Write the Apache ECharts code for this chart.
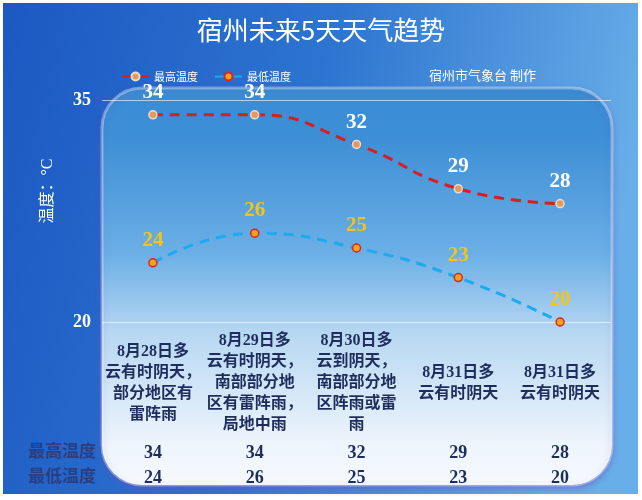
<!DOCTYPE html>
<html><head><meta charset="utf-8">
<script src="https://cdn.jsdelivr.net/npm/echarts@6/dist/echarts.min.js"></script>
<style>html,body{margin:0;padding:0;background:#fff}#c{width:642px;height:500px}</style>
</head><body><div id="c"></div>
<script>
const categories = [
  '8月28日多\n云有时阴天，\n部分地区有\n雷阵雨',
  '8月29日多\n云有时阴天，\n南部部分地\n区有雷阵雨，\n局地中雨',
  '8月30日多\n云到阴天，\n南部部分地\n区阵雨或雷\n雨',
  '8月31日多\n云有时阴天',
  '8月31日多\n云有时阴天'
];
const maxTemps = [34, 34, 32, 29, 28];
const minTemps = [24, 26, 25, 23, 20];
const yMin = 20, yMax = 35, yInterval = 15;
const seriesNames = ['最高温度', '最低温度'];
const rowLabels = ['最高温度', '最低温度'];

const serif = "'Liberation Serif','Noto Sans CJK SC',serif";
const navy = '#1e2d5c';
const chart = echarts.init(document.getElementById('c'));

function rowAxis(values, margin) {
  return {
    type: 'category', data: categories, position: 'bottom', boundaryGap: true,
    axisLine: {show: false}, axisTick: {show: false}, splitLine: {show: false},
    axisLabel: {
      interval: 0, margin: margin, verticalAlign: 'middle',
      formatter: (v, i) => String(values[i]),
      color: navy, fontSize: 18, fontWeight: 'bold', fontFamily: serif
    }
  };
}

chart.setOption({
  animation: false,
  title: [
    {text: '宿州未来5天天气趋势', left: 'center', top: 12,
     textStyle: {color: '#fff', fontSize: 26, fontWeight: 'normal', fontFamily: 'Noto Sans CJK SC'}},
    {text: '宿州市气象台 制作', left: 424, top: 64,
     textStyle: {color: '#fff', fontSize: 13, fontWeight: 'normal', fontFamily: 'Noto Sans CJK SC'}}
  ],
  legend: {
    left: 116, top: 66, itemWidth: 27, itemHeight: 10, itemGap: 16,
    data: seriesNames,
    textStyle: {color: '#fff', fontSize: 11, fontFamily: 'Noto Sans CJK SC'}
  },
  graphic: [
    {type: 'rect', z: -20, silent: true,
     shape: {x: 3, y: 3, width: 635, height: 491},
     style: {fill: new echarts.graphic.LinearGradient(0, 0, 1, 0.3, [
       {offset: 0, color: '#1c58c2'}, {offset: 0.5, color: '#2d74d0'}, {offset: 1, color: '#68aee8'}])}},
    {type: 'rect', z: -10, silent: true,
     shape: {x: 102, y: 88, width: 510, height: 397, r: 40},
     style: {
       fill: new echarts.graphic.LinearGradient(0, 0, 0, 1, [
         {offset: 0, color: '#3a8cd4'}, {offset: 0.12, color: '#3c8ed5'},
         {offset: 0.42, color: '#6cafe6'}, {offset: 0.62, color: '#b8d8f2'},
         {offset: 0.9, color: '#eef5fc'}, {offset: 1, color: '#f6f9fd'}]),
       stroke: 'rgba(255,255,255,0.35)', lineWidth: 3,
       shadowColor: 'rgba(110,80,190,0.55)', shadowBlur: 6, shadowOffsetY: 3
     }},
    {type: 'text', z: 5, x: 48, y: 191, rotation: Math.PI / 2, silent: true,
     style: {text: '温度：°C', fill: '#fff', fontSize: 16, fontFamily: serif, align: 'center', verticalAlign: 'middle'}},
    {type: 'text', z: 5, x: 62, y: 453, silent: true,
     style: {text: rowLabels[0], fill: '#2c3e82', fontSize: 17, fontWeight: 'bold', fontFamily: serif, align: 'center', verticalAlign: 'middle'}},
    {type: 'text', z: 5, x: 62, y: 478, silent: true,
     style: {text: rowLabels[1], fill: '#2c3e82', fontSize: 17, fontWeight: 'bold', fontFamily: serif, align: 'center', verticalAlign: 'middle'}}
  ],
  grid: {left: 102, right: 31, top: 100, bottom: 178, containLabel: false, outerBoundsMode: 'none'},
  xAxis: [
    {
      type: 'category', data: categories, position: 'bottom', boundaryGap: true,
      axisLine: {show: false}, axisTick: {show: false}, splitLine: {show: false},
      axisLabel: {
        interval: 0, margin: 61, verticalAlign: 'middle', lineHeight: 21,
        color: navy, fontSize: 16, fontWeight: 'bold', fontFamily: serif
      }
    },
    rowAxis(maxTemps, 131),
    rowAxis(minTemps, 156)
  ],
  yAxis: {
    type: 'value', min: yMin, max: yMax, interval: yInterval,
    axisLine: {show: false}, axisTick: {show: false},
    splitLine: {lineStyle: {color: 'rgba(255,255,255,0.6)', width: 1}},
    axisLabel: {color: '#fff', fontSize: 18, fontWeight: 'bold', fontFamily: serif, margin: 11}
  },
  series: [
    {
      name: seriesNames[0], type: 'line', data: maxTemps, smooth: true,
      symbol: 'circle', symbolSize: 8,
      itemStyle: {color: '#e49a5a', borderColor: '#e6ddd5', borderWidth: 1.5},
      lineStyle: {color: '#d81e1e', width: 3, type: [10, 7]},
      label: {show: true, position: 'top', distance: 7, color: '#fff', fontSize: 21, fontWeight: 'bold', fontFamily: serif}
    },
    {
      name: seriesNames[1], type: 'line', data: minTemps, smooth: true,
      symbol: 'circle', symbolSize: 8,
      itemStyle: {color: '#f5a020', borderColor: '#d8281e', borderWidth: 1.5},
      lineStyle: {color: '#1eaaf0', width: 3, type: [10, 7]},
      label: {show: true, position: 'top', distance: 7, color: '#f5c416', fontSize: 21, fontWeight: 'bold', fontFamily: serif}
    }
  ]
});
</script></body></html>
